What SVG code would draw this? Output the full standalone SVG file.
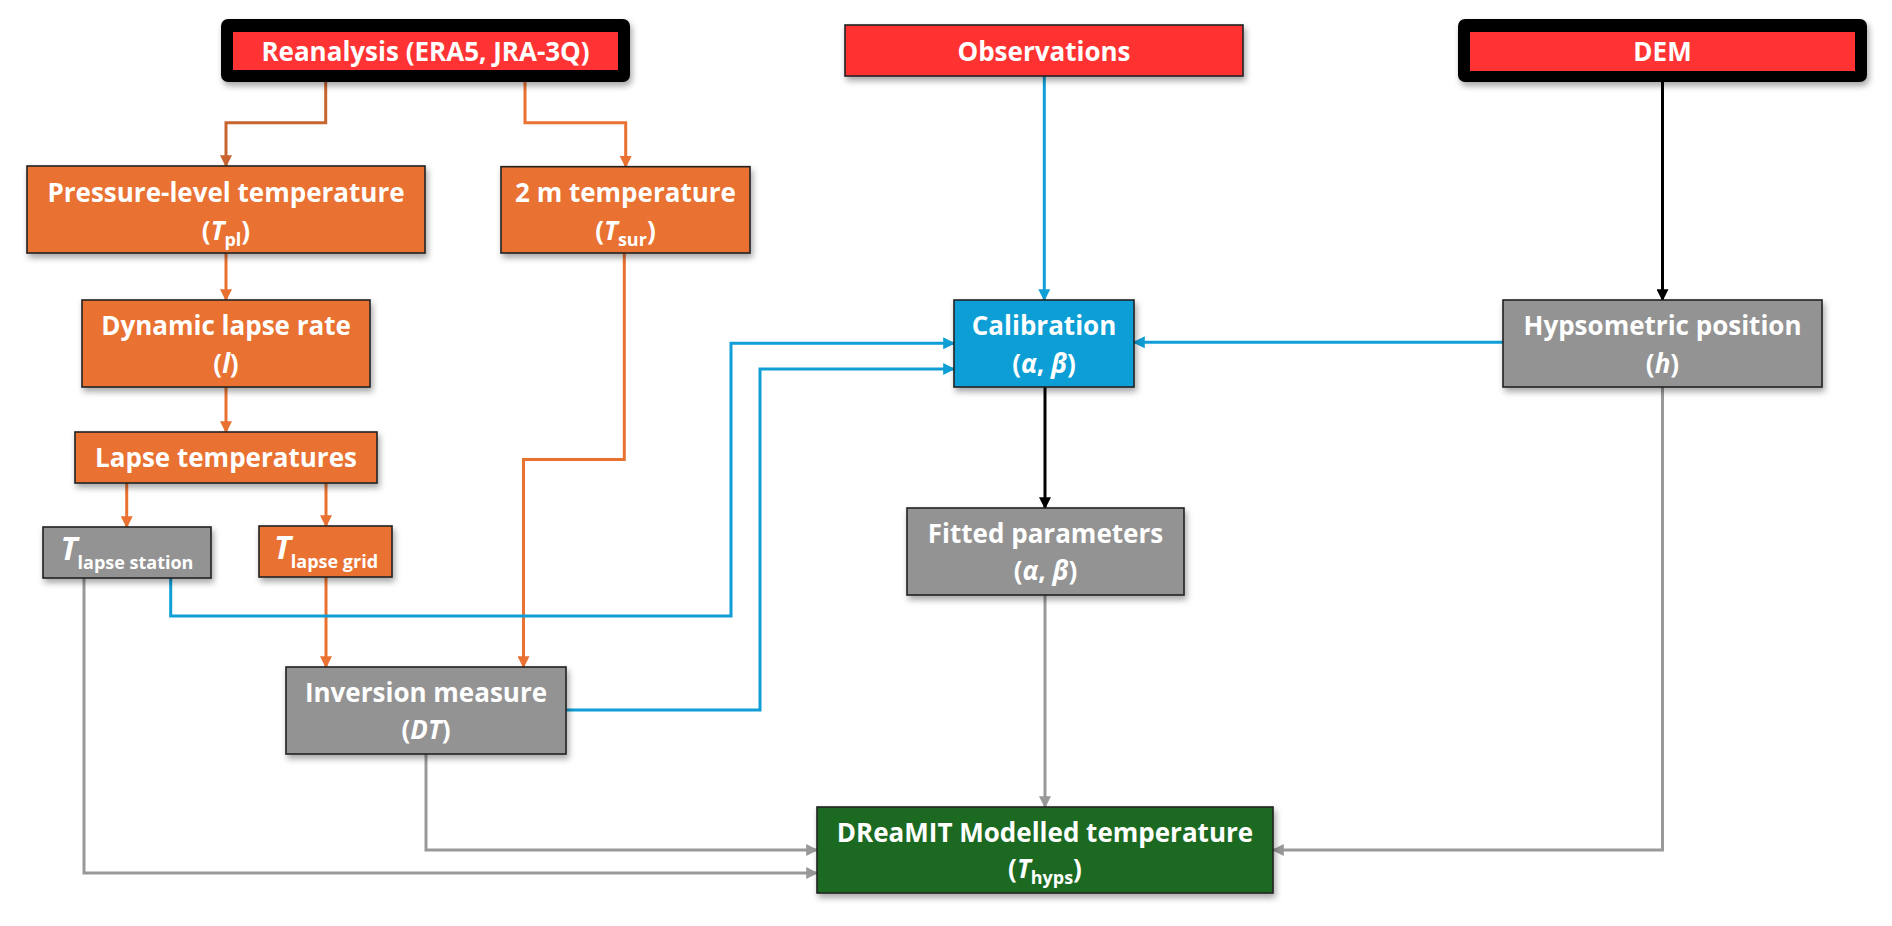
<svg xmlns="http://www.w3.org/2000/svg" width="1892" height="926" viewBox="0 0 1892 926">
<style>
.lbl{font-family:"Open Sans","Liberation Sans",sans-serif;font-weight:bold;font-size:26px;fill:#ffffff;text-anchor:middle}
.it{font-style:italic}
.box{stroke:#222222;stroke-width:1.6}
.org{fill:#E97132}
.gry{fill:#939393}
.blu{fill:#0F9ED5}
.grn{fill:#1B6B24}
.red{fill:#FF3333}
.c{fill:none;stroke-width:3}
.co{stroke:#E97132}
.cb{stroke:#C8642F}
.cu{stroke:#0F9ED5}
.ck{stroke:#000000}
.cg{stroke:#999999}
</style>
<defs>
<filter id="sh" x="-10%" y="-20%" width="125%" height="160%">
<feDropShadow dx="2" dy="4" stdDeviation="3" flood-color="#000" flood-opacity="0.35"/>
</filter>
<marker id="ao" viewBox="0 0 10 10" refX="9" refY="5" markerUnits="userSpaceOnUse" markerWidth="12" markerHeight="12" orient="auto"><path d="M0,0 L10,5 L0,10 z" fill="#E97132"/></marker>
<marker id="ab" viewBox="0 0 10 10" refX="9" refY="5" markerUnits="userSpaceOnUse" markerWidth="12" markerHeight="12" orient="auto"><path d="M0,0 L10,5 L0,10 z" fill="#C8642F"/></marker>
<marker id="au" viewBox="0 0 10 10" refX="9" refY="5" markerUnits="userSpaceOnUse" markerWidth="12" markerHeight="12" orient="auto"><path d="M0,0 L10,5 L0,10 z" fill="#0F9ED5"/></marker>
<marker id="ak" viewBox="0 0 10 10" refX="9" refY="5" markerUnits="userSpaceOnUse" markerWidth="12" markerHeight="12" orient="auto"><path d="M0,0 L10,5 L0,10 z" fill="#000000"/></marker>
<marker id="ag" viewBox="0 0 10 10" refX="9" refY="5" markerUnits="userSpaceOnUse" markerWidth="12" markerHeight="12" orient="auto"><path d="M0,0 L10,5 L0,10 z" fill="#999999"/></marker>
</defs>
<rect width="1892" height="926" fill="#ffffff"/>

<g id="connectors">
<path class="c cb" d="M325.7 82 V122.7 H226 V166" marker-end="url(#ab)"/>
<path class="c co" d="M525 82 V122.7 H625.7 V166.7" marker-end="url(#ao)"/>
<path class="c co" d="M226 253 V300" marker-end="url(#ao)"/>
<path class="c co" d="M226 387 V432" marker-end="url(#ao)"/>
<path class="c co" d="M126.7 483 V527" marker-end="url(#ao)"/>
<path class="c co" d="M326 483 V526" marker-end="url(#ao)"/>
<path class="c co" d="M326 577 V667" marker-end="url(#ao)"/>
<path class="c co" d="M624.3 253 V459.5 H523.5 V667" marker-end="url(#ao)"/>
<path class="c cu" d="M1044.3 76 V300" marker-end="url(#au)"/>
<path class="c cu" d="M170.7 578 V616 H731 V343.3 H954" marker-end="url(#au)"/>
<path class="c cu" d="M566 710 H760 V369 H954" marker-end="url(#au)"/>
<path class="c cu" d="M1503 342.3 H1134" marker-end="url(#au)"/>
<path class="c ck" d="M1662.5 82 V300" marker-end="url(#ak)"/>
<path class="c ck" d="M1045 387 V508" marker-end="url(#ak)"/>
<path class="c cg" d="M1045 595 V807" marker-end="url(#ag)"/>
<path class="c cg" d="M84 578 V873 H817" marker-end="url(#ag)"/>
<path class="c cg" d="M426 754 V850 H817" marker-end="url(#ag)"/>
<path class="c cg" d="M1662.5 387 V850 H1273" marker-end="url(#ag)"/>
</g>

<g id="reanalysis">
<rect x="221" y="19" width="409" height="63" rx="7" fill="#000000" filter="url(#sh)"/>
<rect x="233" y="32" width="385" height="38" class="red"/>
<text class="lbl" x="425.5" y="61">Reanalysis (ERA5, JRA-3Q)</text>
</g>

<g id="observations">
<rect x="845" y="25" width="398" height="51" class="box red" filter="url(#sh)"/>
<text class="lbl" x="1044" y="61">Observations</text>
</g>

<g id="dem">
<rect x="1458" y="19" width="409" height="63" rx="7" fill="#000000" filter="url(#sh)"/>
<rect x="1470" y="32" width="385" height="39" class="red"/>
<text class="lbl" x="1662.5" y="61">DEM</text>
</g>

<g id="pressure">
<rect x="27" y="166" width="398" height="87" class="box org" filter="url(#sh)"/>
<text class="lbl" x="226" y="201.5">Pressure-level temperature</text>
<text class="lbl" x="226" y="240">(<tspan class="it">T</tspan><tspan font-size="18" dy="6">pl</tspan><tspan dy="-6">)</tspan></text>
</g>

<g id="t2m">
<rect x="501" y="166.7" width="249" height="86.3" class="box org" filter="url(#sh)"/>
<text class="lbl" x="625.5" y="201.5">2 m temperature</text>
<text class="lbl" x="625.5" y="240">(<tspan class="it">T</tspan><tspan font-size="18" dy="6">sur</tspan><tspan dy="-6">)</tspan></text>
</g>

<g id="dynamic">
<rect x="82" y="300" width="288" height="87" class="box org" filter="url(#sh)"/>
<text class="lbl" x="226" y="335">Dynamic lapse rate</text>
<text class="lbl" x="226" y="373">(<tspan class="it">l</tspan>)</text>
</g>

<g id="lapse">
<rect x="75" y="432" width="302" height="51" class="box org" filter="url(#sh)"/>
<text class="lbl" x="226" y="467">Lapse temperatures</text>
</g>

<g id="tstation">
<rect x="43" y="527" width="168" height="51" class="box gry" filter="url(#sh)"/>
<text class="lbl" x="127" y="560"><tspan class="it" font-size="32">T</tspan><tspan font-size="18" dy="9">lapse station</tspan></text>
</g>

<g id="tgrid">
<rect x="259" y="526" width="133" height="51" class="box org" filter="url(#sh)"/>
<text class="lbl" x="326" y="559"><tspan class="it" font-size="32">T</tspan><tspan font-size="18" dy="9">lapse grid</tspan></text>
</g>

<g id="inversion">
<rect x="286" y="667" width="280" height="87" class="box gry" filter="url(#sh)"/>
<text class="lbl" x="426" y="702">Inversion measure</text>
<text class="lbl" x="426" y="739">(<tspan class="it">DT</tspan>)</text>
</g>

<g id="calibration">
<rect x="954" y="300" width="180" height="87" class="box blu" filter="url(#sh)"/>
<text class="lbl" x="1044" y="335">Calibration</text>
<text class="lbl" x="1044" y="373">(<tspan class="it">α</tspan>, <tspan class="it">β</tspan>)</text>
</g>

<g id="hypsometric">
<rect x="1503" y="300" width="319" height="87" class="box gry" filter="url(#sh)"/>
<text class="lbl" x="1662.5" y="335">Hypsometric position</text>
<text class="lbl" x="1662.5" y="373">(<tspan class="it">h</tspan>)</text>
</g>

<g id="fitted">
<rect x="907" y="508" width="277" height="87" class="box gry" filter="url(#sh)"/>
<text class="lbl" x="1045.5" y="543">Fitted parameters</text>
<text class="lbl" x="1045.5" y="580">(<tspan class="it">α</tspan>, <tspan class="it">β</tspan>)</text>
</g>

<g id="dreamit">
<rect x="817" y="807" width="456" height="86" class="box grn" filter="url(#sh)"/>
<text class="lbl" x="1045" y="842">DReaMIT Modelled temperature</text>
<text class="lbl" x="1045" y="878">(<tspan class="it">T</tspan><tspan font-size="18" dy="6">hyps</tspan><tspan dy="-6">)</tspan></text>
</g>
</svg>
